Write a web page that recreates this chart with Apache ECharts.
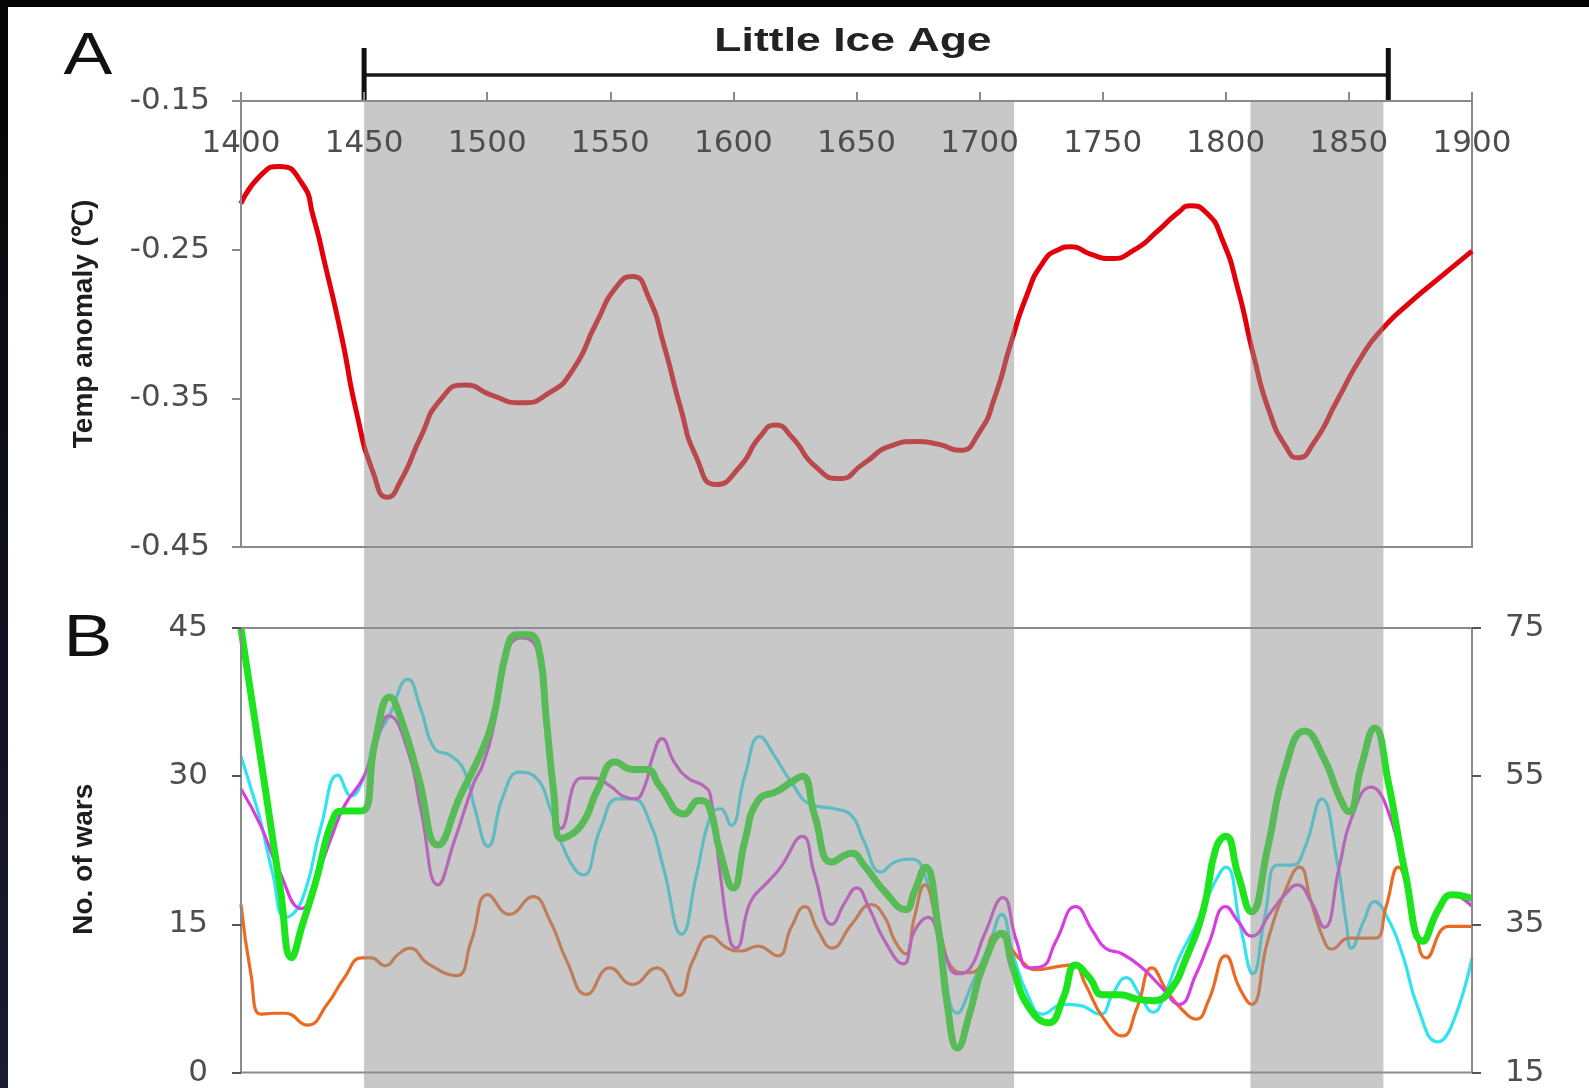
<!DOCTYPE html>
<html>
<head>
<meta charset="utf-8">
<script src="https://cdn.jsdelivr.net/npm/echarts@6/dist/echarts.min.js"></script>
<style>
html,body{margin:0;padding:0;background:#fff;}
#chart{width:1589px;height:1088px;}
#topbar{position:absolute;left:0;top:0;width:1589px;height:7px;background:#050505;}
#leftbar{position:absolute;left:0;top:0;width:8px;height:1088px;background:linear-gradient(#050505,#1b1b32);}
</style>
</head>
<body>
<div id="chart"></div>
<div id="topbar"></div>
<div id="leftbar"></div>
<script>
// ---------- data ----------
const tempTicks = [-0.45, -0.35, -0.25, -0.15];
const warsLeftTicks = [0, 15, 30, 45];
const warsRightTicks = [15, 35, 55, 75];

const bandStarts = [1450, 1810];
const bandEnds = [1714, 1864];
const liaStart = 1450;
const liaEnd = 1866;

const tempYears = [1400,1408,1415.5,1424.6,1429.4,1434,1440.8,1447,1453.7,1459.5,1465,1473,1481,1491,1502,1513.6,1525,1534.7,1544.4,1552.5,1559,1565.4,1571.9,1578.4,1584.8,1593,1602.6,1610.7,1617.2,1623.7,1633.4,1643,1652.8,1664,1673.9,1683.6,1691.7,1699.8,1706.2,1712.7,1719,1725.6,1732,1737,1745,1753,1763,1772.6,1780.7,1785.5,1792,1798.5,1805,1811.4,1817.9,1824.4,1829.2,1835.7,1845.4,1855.1,1863.2,1874.5,1887.5,1900];
const tempValues = [-0.219,-0.2,-0.194,-0.205,-0.228,-0.259,-0.308,-0.36,-0.40,-0.4165,-0.405,-0.376,-0.351,-0.341,-0.348,-0.353,-0.3465,-0.331,-0.299,-0.275,-0.268,-0.2815,-0.315,-0.3555,-0.389,-0.408,-0.396,-0.376,-0.368,-0.376,-0.396,-0.404,-0.394,-0.382,-0.379,-0.381,-0.385,-0.373,-0.349,-0.313,-0.2815,-0.259,-0.25,-0.248,-0.253,-0.256,-0.25,-0.237,-0.225,-0.2205,-0.225,-0.243,-0.277,-0.322,-0.36,-0.3825,-0.39,-0.38,-0.351,-0.322,-0.304,-0.286,-0.268,-0.251];

// green (thick) read on the right axis
const greenYears = [1400,1410,1416,1420.5,1425,1430,1438,1442,1449,1454.5,1460.4,1465,1472,1480,1489,1497.6,1502.4,1508,1512,1517,1521,1524,1527,1530,1538,1545,1552,1559,1565,1570,1580,1586,1590,1594.5,1600,1604.6,1610,1618,1623.5,1628,1633,1640,1648,1653,1661.5,1670,1673.5,1678,1683,1687,1691,1696,1701,1709,1713.5,1720,1728,1734,1739,1744.6,1750,1757,1764,1770.4,1777,1784,1791,1796,1800,1805,1810.4,1817,1824,1832,1840,1846,1850,1855,1860.5,1866,1873,1880,1886.5,1892,1900];
const greenValues = [74.9,53,39.7,30.5,35,40.3,49.7,50.3,50.3,59.7,65.7,62.7,55,45.7,52.3,58.2,62.7,72.1,74.1,74.1,72.1,62.7,52.9,46.6,48.3,53.3,56.9,55.9,55.9,53.7,49.9,51.7,51,44.9,39.9,46.2,51.7,53,54.2,55,49.7,43.4,44.6,43,39.4,37,39.4,42.7,35,23.8,18.3,23,29,33.8,29.1,23.8,21.7,25.1,29.5,27.8,25.5,25.5,24.9,24.7,25.9,30.5,37.1,45.3,46.9,41.7,36.7,45.3,55.9,61.1,57.3,52.3,50.2,56.3,61.5,54.2,41.7,32.7,37.1,39,38.5];

const magYears = [1400,1408,1415,1424.5,1431,1437,1442,1450,1455,1460,1468,1473,1480,1486.6,1494.7,1498,1503,1508,1514,1520,1524,1527,1530,1538,1543,1550,1555,1560,1564,1567,1571,1576,1581.6,1588,1590.7,1594.7,1598.7,1601,1607,1614,1619,1628,1633,1640,1645.5,1650,1655,1661.5,1669,1673.5,1679,1685,1691,1696,1702,1709.5,1715,1720,1725,1731,1739,1746,1751,1758,1766,1774,1781,1788,1793,1800,1805,1810.4,1818.5,1824,1829,1834.6,1840,1846,1851,1859,1865,1873,1880,1886,1892,1900];
const magValues = [28.7,25,20.7,16.6,20,24,27,30,33.5,36.1,32.4,26.7,19,23.4,29.4,31,35.5,42.5,44,43,35.8,28.4,24.7,29.8,29.8,29,28,27.7,29,31.8,33.8,31.4,29.8,29,28,20,13.3,12.6,17.3,19.3,20.7,23.9,20,15,17.3,18.7,16.7,13.3,11,14.3,15.7,12.5,10,10.5,14,17.7,13.3,10.6,10.7,13.3,16.8,14.3,12.6,12,10.6,8.6,6.9,10,13,16.8,15.3,13.8,16.3,18,19,17.3,14.7,20.7,25.7,28.9,27.1,20,13.5,16.5,18,16.8];

const cyanYears = [1400,1405,1408,1413,1418,1424.5,1432.6,1439.4,1444.8,1450,1454.3,1460,1467.8,1473,1478.6,1485,1491,1495,1500.3,1506.5,1513,1520,1525.6,1532.3,1539,1546,1553,1559,1566,1571.6,1579,1585,1590.7,1594.7,1599,1604.6,1610.7,1616.8,1623.5,1631.6,1641,1648,1653,1660,1665.6,1672.3,1677.8,1684,1691,1697,1704,1709,1713.5,1720,1725.5,1734,1740.5,1749,1754,1759.5,1765,1770.4,1775.8,1781,1788,1795,1800,1806,1811,1816,1821,1827,1832,1839,1845,1849,1851,1856,1860.5,1865,1871.7,1878,1886,1892,1900];
const cyanValues = [32,28,25.4,20,15.7,17.3,25,30.1,28,30,33.5,36,39.8,36.8,32.8,32.1,30.4,26.7,22.9,28,30.4,29.8,26.7,22,20,24.7,27.7,27.7,25.4,20.7,14,20,26,26.7,25,30,34,32,29.4,27.1,26.7,26,23.4,20.3,21.3,21.6,20,13,6,9,13,16,12,7.6,5.9,6.9,6.8,5.9,7.9,9.6,7.9,6.1,8.3,11.6,15,19,20.8,14.7,10,16,21,21,22.7,27.7,21.7,15,12.6,15.3,17.3,16,12,6.6,3.1,4.9,11.6];

const orangeYears = [1400,1404,1408,1413.7,1418,1427,1435,1442,1449,1453,1458.4,1464,1468.5,1476,1487.5,1493.5,1500.3,1509,1518.5,1525.6,1532.3,1540.4,1549.8,1559,1568.8,1578,1583.5,1590.7,1597.4,1603,1610,1618,1623.5,1629,1634.5,1640,1648,1656,1661.5,1665.6,1670,1673.5,1677.8,1683,1690,1694.3,1700,1707,1717,1723,1731,1738,1743,1750,1758,1764,1770,1776,1782.5,1788,1793,1800,1805.5,1810.4,1817,1824,1830,1834.6,1840,1843,1850,1860.5,1865,1870,1876,1881.5,1890.5,1900];
const orangeValues = [17,10,5.9,6,6,4.8,6.9,9.6,11.6,11.6,10.8,12,12.6,11,9.8,13.3,18,16,17.8,15.3,11.3,7.9,10.6,8.9,10.6,7.8,11.3,13.8,12.6,12.3,12.8,11.8,14.7,16.8,14.3,12.6,15,17,15.7,13.3,12,15.7,19,15,10.3,10.1,10.6,14,11.3,10.4,10.7,10.9,8.9,5.6,3.7,6.6,10.6,8.3,6.3,5.4,7.3,11.8,8.6,6.9,13.3,18.3,20.8,17.3,13.3,12.5,13.6,13.6,16.7,20.8,16,11.6,14.8,14.8];

// ---------- chart ----------
const pairs = (xs, ys) => xs.map((x, i) => [x, ys[i]]);
const axisGray = '#8a8a8a';
const labelStyle = { color: '#4d4d4d', fontFamily: 'DejaVu Sans', fontSize: 31 };
const nameStyle = { color: '#1e1e1e', fontFamily: 'Liberation Sans', fontWeight: 'bold', fontSize: 28 };
const L = 241, R = 117;

const chart = echarts.init(document.getElementById('chart'), null, { renderer: 'canvas' });

const option = {
  backgroundColor: '#ffffff',
  animation: false,
  grid: [
    { left: L, right: R, top: 101, height: 446, show: true, borderColor: axisGray, borderWidth: 2 },
    { left: L, right: R, top: 628, height: 447, show: true, borderColor: axisGray, borderWidth: 2 },
    { left: L, right: R, top: 101, bottom: 0 },
    { left: L, right: R, top: 48, height: 54 }
  ],
  xAxis: [
    { gridIndex: 0, type: 'value', min: 1400, max: 1900, interval: 50, position: 'top', z: 20,
      axisLine: { show: true, lineStyle: { color: axisGray, width: 2 } },
      axisTick: { show: true, inside: false, length: 9, lineStyle: { color: axisGray, width: 2 } },
      axisLabel: Object.assign({ inside: true, margin: 27, showMinLabel: true, showMaxLabel: true, formatter: v => String(v) }, labelStyle),
      splitLine: { show: false } },
    { gridIndex: 1, type: 'value', min: 1400, max: 1900, show: false },
    { gridIndex: 2, type: 'value', min: 1400, max: 1900, show: false },
    { gridIndex: 3, type: 'value', min: 1400, max: 1900, show: false }
  ],
  yAxis: [
    { gridIndex: 0, type: 'value', min: -0.45, max: -0.15, z: 20,
      axisLine: { show: true, lineStyle: { color: axisGray, width: 2 } },
      axisTick: { show: true, length: 9, customValues: tempTicks, lineStyle: { color: axisGray, width: 2 } },
      axisLabel: Object.assign({ margin: 31, customValues: tempTicks, formatter: v => v.toFixed(2) }, labelStyle),
      splitLine: { show: false },
      name: 'Temp anomaly (℃)', nameLocation: 'middle', nameGap: 143, nameTextStyle: nameStyle },
    { gridIndex: 1, type: 'value', min: 0, max: 45, interval: 15, z: 20,
      axisLine: { show: true, lineStyle: { color: axisGray, width: 2 } },
      axisTick: { show: true, length: 9, customValues: warsLeftTicks, lineStyle: { color: '#555', width: 2 } },
      axisLabel: Object.assign({ margin: 33, customValues: warsLeftTicks, formatter: v => String(v) }, labelStyle),
      splitLine: { show: false },
      name: 'No. of wars', nameLocation: 'middle', nameGap: 143,
      nameTextStyle: Object.assign({ padding: [0, 18, 0, 0] }, nameStyle) },
    { gridIndex: 1, type: 'value', min: 15, max: 75, position: 'right', z: 20,
      axisLine: { show: true, lineStyle: { color: axisGray, width: 2 } },
      axisTick: { show: true, length: 9, customValues: warsRightTicks, lineStyle: { color: '#555', width: 2 } },
      axisLabel: Object.assign({ margin: 33, customValues: warsRightTicks, formatter: v => String(v) }, labelStyle),
      splitLine: { show: false } },
    { gridIndex: 2, type: 'value', min: 0, max: 1, show: false },
    { gridIndex: 3, type: 'value', min: 0, max: 1, show: false }
  ],
  graphic: [
    { type: 'text', x: 88, y: 57, scaleX: 1.22, z: 50,
      style: { text: 'A', font: '60px "Liberation Sans"', fill: '#111', align: 'center', verticalAlign: 'middle', textAlign: 'center', textVerticalAlign: 'middle' } },
    { type: 'text', x: 88, y: 639, scaleX: 1.22, z: 50,
      style: { text: 'B', font: '60px "Liberation Sans"', fill: '#111', align: 'center', verticalAlign: 'middle', textAlign: 'center', textVerticalAlign: 'middle' } },
    { type: 'text', x: 853, y: 42, scaleX: 1.35, z: 50,
      style: { text: 'Little Ice Age', font: 'bold 33px "Liberation Sans"', fill: '#222', align: 'center', verticalAlign: 'middle', textAlign: 'center', textVerticalAlign: 'middle' } }
  ],
  series: [
    { name: 'Temperature', type: 'line', xAxisIndex: 0, yAxisIndex: 0, data: pairs(tempYears, tempValues),
      smooth: 0.6, showSymbol: false, z: 3, lineStyle: { color: '#e3000b', width: 5 } },
    { name: 'Cyan', type: 'line', xAxisIndex: 1, yAxisIndex: 1, data: pairs(cyanYears, cyanValues),
      smooth: 0.5, showSymbol: false, z: 3, lineStyle: { color: '#2fe4ee', width: 3.2 } },
    { name: 'Orange', type: 'line', xAxisIndex: 1, yAxisIndex: 1, data: pairs(orangeYears, orangeValues),
      smooth: 0.5, showSymbol: false, z: 3, lineStyle: { color: '#ea6a22', width: 3.2 } },
    { name: 'Magenta', type: 'line', xAxisIndex: 1, yAxisIndex: 1, data: pairs(magYears, magValues),
      smooth: 0.5, showSymbol: false, z: 3, lineStyle: { color: '#d83ddf', width: 3.2 } },
    { name: 'Green', type: 'line', xAxisIndex: 1, yAxisIndex: 2, data: pairs(greenYears, greenValues),
      smooth: 0.5, showSymbol: false, z: 4, lineStyle: { color: '#1ee41e', width: 7 } },
    { name: 'Bands', type: 'custom', xAxisIndex: 2, yAxisIndex: 3, z: 10, silent: true,
      data: bandStarts.map((s, i) => [s, bandEnds[i], 0]),
      encode: { x: [0, 1], y: 2 },
      renderItem: function (params, api) {
        const a = api.coord([api.value(0), 1]);
        const b = api.coord([api.value(1), 0]);
        return { type: 'rect', shape: { x: a[0], y: a[1], width: b[0] - a[0], height: b[1] - a[1] },
          style: { fill: 'rgba(145,145,145,0.5)' } };
      } },
    { name: 'LIA', type: 'custom', xAxisIndex: 3, yAxisIndex: 4, z: 12, silent: true,
      data: [[liaStart, liaEnd, 0.5]],
      encode: { x: [0, 1], y: 2 },
      renderItem: function (params, api) {
        const x0 = api.value(0), x1 = api.value(1), ym = api.value(2);
        const pL = api.coord([x0, ym]), pR = api.coord([x1, ym]);
        const tL = api.coord([x0, 1]), bL = api.coord([x0, 0]);
        const tR = api.coord([x1, 1]), bR = api.coord([x1, 0]);
        return { type: 'group', children: [
          { type: 'line', shape: { x1: pL[0], y1: pL[1], x2: pR[0], y2: pR[1] }, style: { stroke: '#1a1a1a', lineWidth: 3.5 } },
          { type: 'line', shape: { x1: tL[0], y1: tL[1], x2: bL[0], y2: bL[1] }, style: { stroke: '#111', lineWidth: 5 } },
          { type: 'line', shape: { x1: tR[0], y1: tR[1], x2: bR[0], y2: bR[1] }, style: { stroke: '#111', lineWidth: 5 } }
        ] };
      } }
  ]
};
chart.setOption(option);
</script>
</body>
</html>
